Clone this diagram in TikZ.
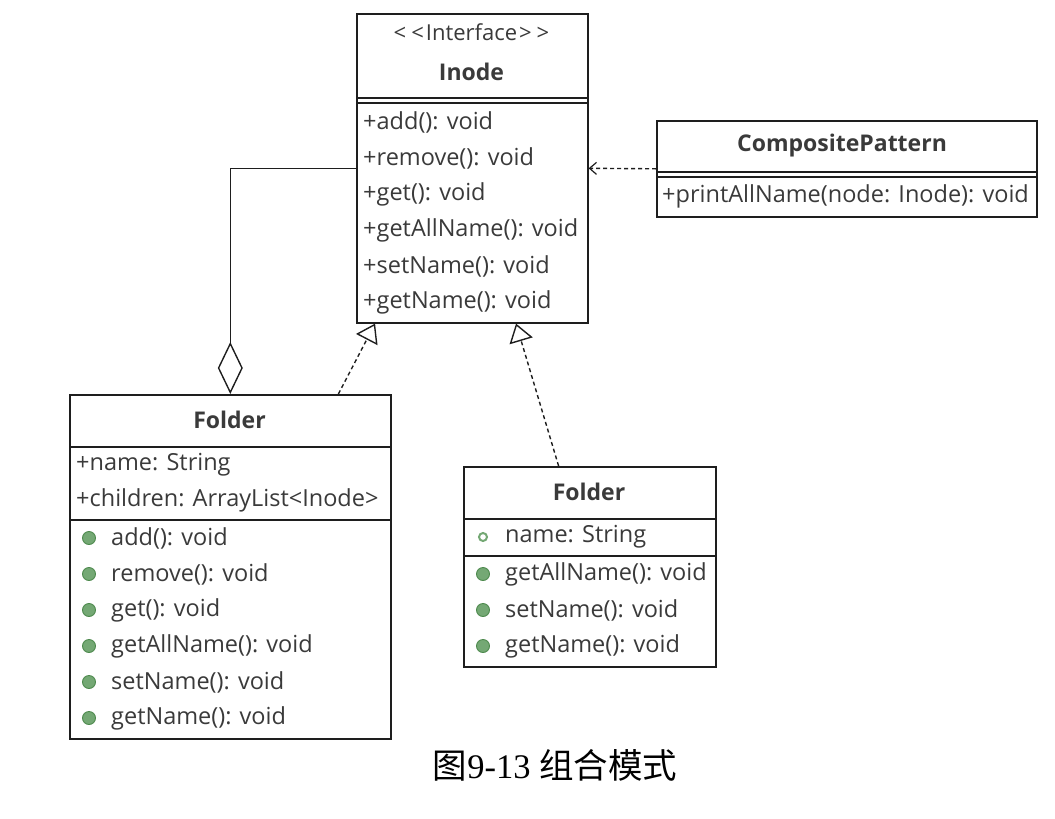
\documentclass[tikz,border=0pt]{standalone}
\usepackage{fontspec}
\setmainfont{Open Sans}
\newfontfamily\cjkfont{Noto Sans CJK SC}
\newfontfamily\capserif{Liberation Serif}
\usetikzlibrary{arrows.meta,calc}
\definecolor{linec}{HTML}{1E1E1E}
\definecolor{txt}{HTML}{3A3A3A}
\definecolor{bulletg}{HTML}{74A874}
\definecolor{bulletd}{HTML}{4E8A4E}
\begin{document}
\begin{tikzpicture}[x=1pt,y=-1pt,
  box/.style={draw=linec, line width=1.6pt, inner sep=0pt, anchor=north west, fill=white},
  member/.style={anchor=west, inner sep=0pt, font=\fontsize{23.5}{23.5}\selectfont, text=txt},
  title/.style={anchor=center, inner sep=0pt, font=\fontsize{23}{23}\selectfont\bfseries, text=txt},
  stereo/.style={anchor=center, inner sep=0pt, font=\fontsize{22}{22}\selectfont, text=txt},
  bullet/.style={circle, fill=bulletg, draw=bulletd, line width=0.9pt, minimum size=13pt, inner sep=0pt},
  hbullet/.style={circle, draw=bulletg, line width=2pt, minimum size=8pt, inner sep=0pt},
  sep/.style={draw=linec, line width=1.6pt},
  conn/.style={draw=linec, line width=1.4pt},
  dsh/.style={conn, dash pattern=on 4pt off 3pt},
  caption/.style={anchor=center, inner sep=0pt, font=\fontsize{34.5}{34.5}\selectfont, text=black}
]
\useasboundingbox (0,0) rectangle (1055,819);

% ---------- Inode ----------
\node[box, minimum width=231, minimum height=309] (inode) at (356,13) {};
\draw[sep] (inode.west |- 0,98) -- (inode.east |- 0,98);
\draw[sep] (inode.west |- 0,103) -- (inode.east |- 0,103);
\node[stereo] (inodest) at (471.5,32) {{<}\kern5pt{<}\kern2pt Interface\kern2pt{>}\kern5pt{>}};
\node[title] (inodet) at (471.5,72) {Inode};
\node[member] (i1) at (363,122) {+add(): void};
\node[member] (i2) at (363,158) {+remove(): void};
\node[member] (i3) at (363,194) {+get(): void};
\node[member] (i4) at (363,230) {+getAllName(): void};
\node[member] (i5) at (363,266) {+setName(): void};
\node[member] (i6) at (363,302) {+getName(): void};

% ---------- CompositePattern ----------
\node[box, minimum width=380, minimum height=96] (cp) at (656,120) {};
\draw[sep] (cp.west |- 0,172) -- (cp.east |- 0,172);
\draw[sep] (cp.west |- 0,177) -- (cp.east |- 0,177);
\node[title] (cpt) at (842,146) {CompositePattern};
\node[member] (c1) at (662,196) {+printAllName(node: Inode): void};

% ---------- Folder (left) ----------
\node[box, minimum width=321, minimum height=344] (fa) at (69,394) {};
\draw[sep] (fa.west |- 0,447) -- (fa.east |- 0,447);
\draw[sep] (fa.west |- 0,520) -- (fa.east |- 0,520);
\node[title] (fat) at (229.5,420) {Folder};
\node[member] (fa1) at (76,465) {+name: String};
\node[member] (fa2) at (76,500) {+children: ArrayList<Inode>};
\node[bullet] (fab1) at (89,538) {};
\node[member] (fam1) at (111,538) {add(): void};
\node[bullet] (fab2) at (89,574) {};
\node[member] (fam2) at (111,574) {remove(): void};
\node[bullet] (fab3) at (89,610) {};
\node[member] (fam3) at (111,610) {get(): void};
\node[bullet] (fab4) at (89,646) {};
\node[member] (fam4) at (111,646) {getAllName(): void};
\node[bullet] (fab5) at (89,682) {};
\node[member] (fam5) at (111,682) {setName(): void};
\node[bullet] (fab6) at (89,718) {};
\node[member] (fam6) at (111,718) {getName(): void};

% ---------- Folder (right) ----------
\node[box, minimum width=252, minimum height=200] (fb) at (463,466) {};
\draw[sep] (fb.west |- 0,519) -- (fb.east |- 0,519);
\draw[sep] (fb.west |- 0,556) -- (fb.east |- 0,556);
\node[title] (fbt) at (589,492) {Folder};
\node[hbullet] (fbh) at (483,537) {};
\node[member] (fb1) at (505,537) {name: String};
\node[bullet] (fbb1) at (483,574) {};
\node[member] (fbm1) at (505,574) {getAllName(): void};
\node[bullet] (fbb2) at (483,610) {};
\node[member] (fbm2) at (505,610) {setName(): void};
\node[bullet] (fbb3) at (483,646) {};
\node[member] (fbm3) at (505,646) {getName(): void};

% ---------- Connectors ----------
\draw[conn, -{Diamond[open, length=52pt, width=25pt, line width=1.4pt]}] (inode.west) -| (fa.north);
\draw[dsh, -{Straight Barb[length=7pt, width=12pt, line width=1.2pt]}] (cp.west) -- (inode.east);
\draw[dsh, -{Triangle[open, length=18pt, width=24pt, line width=1.4pt]}]
  ($(fa.north west)!0.835!(fa.north east)$) -- ($(inode.south west)!0.082!(inode.south east)$);
\draw[dsh, -{Triangle[open, length=18pt, width=24pt, line width=1.4pt]}]
  ($(fb.north west)!0.377!(fb.north east)$) -- ($(inode.south west)!0.688!(inode.south east)$);

% ---------- Caption ----------
\node[caption] (cap) at (555,765) {\cjkfont 图\capserif 9-13 \cjkfont 组合模式};
\end{tikzpicture}
\end{document}
